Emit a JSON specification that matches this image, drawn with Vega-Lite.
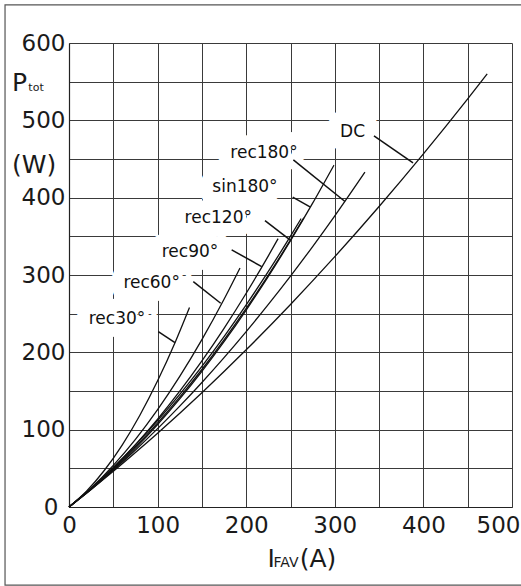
{
  "$schema": "https://vega.github.io/schema/vega-lite/v6.json",
  "width": 443,
  "height": 464,
  "autosize": {"type": "none"},
  "padding": {"left": 69, "top": 43, "right": 9, "bottom": 79},
  "background": "white",
  "config": {"view": {"stroke": null}, "font": "DejaVu Sans"},
  "datasets": {
    "curves": [
      {"curve": "rec30", "x": 0, "y": 0}, {"curve": "rec30", "x": 20, "y": 20.8}, {"curve": "rec30", "x": 40, "y": 47.5}, {"curve": "rec30", "x": 60, "y": 80.1}, {"curve": "rec30", "x": 80, "y": 118.7}, {"curve": "rec30", "x": 100, "y": 163.2}, {"curve": "rec30", "x": 120, "y": 213.5}, {"curve": "rec30", "x": 136, "y": 258},
      {"curve": "rec60", "x": 0, "y": 0}, {"curve": "rec60", "x": 25, "y": 24.6}, {"curve": "rec60", "x": 50, "y": 53.8}, {"curve": "rec60", "x": 75, "y": 87.5}, {"curve": "rec60", "x": 100, "y": 125.9}, {"curve": "rec60", "x": 125, "y": 168.9}, {"curve": "rec60", "x": 150, "y": 216.4}, {"curve": "rec60", "x": 175, "y": 268.6}, {"curve": "rec60", "x": 193, "y": 309},
      {"curve": "rec90", "x": 0, "y": 0}, {"curve": "rec90", "x": 25, "y": 23.8}, {"curve": "rec90", "x": 50, "y": 50.7}, {"curve": "rec90", "x": 75, "y": 80.7}, {"curve": "rec90", "x": 100, "y": 113.7}, {"curve": "rec90", "x": 125, "y": 149.8}, {"curve": "rec90", "x": 150, "y": 188.9}, {"curve": "rec90", "x": 175, "y": 231.1}, {"curve": "rec90", "x": 200, "y": 276.4}, {"curve": "rec90", "x": 225, "y": 324.8}, {"curve": "rec90", "x": 236, "y": 347},
      {"curve": "rec120", "x": 0, "y": 0}, {"curve": "rec120", "x": 25, "y": 23.5}, {"curve": "rec120", "x": 50, "y": 49.5}, {"curve": "rec120", "x": 75, "y": 77.9}, {"curve": "rec120", "x": 100, "y": 108.8}, {"curve": "rec120", "x": 125, "y": 142.1}, {"curve": "rec120", "x": 150, "y": 177.8}, {"curve": "rec120", "x": 175, "y": 216.0}, {"curve": "rec120", "x": 200, "y": 256.7}, {"curve": "rec120", "x": 225, "y": 299.8}, {"curve": "rec120", "x": 250, "y": 345.4}, {"curve": "rec120", "x": 265, "y": 374},
      {"curve": "rec120b", "x": 0, "y": 0}, {"curve": "rec120b", "x": 25, "y": 24.4}, {"curve": "rec120b", "x": 50, "y": 51.2}, {"curve": "rec120b", "x": 75, "y": 80.4}, {"curve": "rec120b", "x": 100, "y": 111.8}, {"curve": "rec120b", "x": 125, "y": 145.7}, {"curve": "rec120b", "x": 150, "y": 181.9}, {"curve": "rec120b", "x": 175, "y": 220.4}, {"curve": "rec120b", "x": 200, "y": 261.4}, {"curve": "rec120b", "x": 225, "y": 304.6}, {"curve": "rec120b", "x": 250, "y": 350.3}, {"curve": "rec120b", "x": 262, "y": 373},
      {"curve": "sin180", "x": 0, "y": 0}, {"curve": "sin180", "x": 25, "y": 22.8}, {"curve": "sin180", "x": 50, "y": 48.2}, {"curve": "sin180", "x": 75, "y": 76.1}, {"curve": "sin180", "x": 100, "y": 106.7}, {"curve": "sin180", "x": 125, "y": 139.8}, {"curve": "sin180", "x": 150, "y": 175.5}, {"curve": "sin180", "x": 175, "y": 213.8}, {"curve": "sin180", "x": 200, "y": 254.7}, {"curve": "sin180", "x": 225, "y": 298.2}, {"curve": "sin180", "x": 250, "y": 344.3}, {"curve": "sin180", "x": 275, "y": 392.9}, {"curve": "sin180", "x": 299, "y": 442},
      {"curve": "rec180", "x": 0, "y": 0}, {"curve": "rec180", "x": 25, "y": 23.0}, {"curve": "rec180", "x": 50, "y": 47.6}, {"curve": "rec180", "x": 75, "y": 73.7}, {"curve": "rec180", "x": 100, "y": 101.3}, {"curve": "rec180", "x": 125, "y": 130.4}, {"curve": "rec180", "x": 150, "y": 161.0}, {"curve": "rec180", "x": 175, "y": 193.1}, {"curve": "rec180", "x": 200, "y": 226.8}, {"curve": "rec180", "x": 225, "y": 262.0}, {"curve": "rec180", "x": 250, "y": 298.6}, {"curve": "rec180", "x": 275, "y": 336.8}, {"curve": "rec180", "x": 300, "y": 376.5}, {"curve": "rec180", "x": 334, "y": 433},
      {"curve": "DC", "x": 0, "y": 0}, {"curve": "DC", "x": 25, "y": 22.7}, {"curve": "DC", "x": 50, "y": 46.1}, {"curve": "DC", "x": 75, "y": 70.4}, {"curve": "DC", "x": 100, "y": 95.4}, {"curve": "DC", "x": 150, "y": 147.8}, {"curve": "DC", "x": 200, "y": 203.3}, {"curve": "DC", "x": 250, "y": 261.9}, {"curve": "DC", "x": 300, "y": 323.7}, {"curve": "DC", "x": 350, "y": 388.6}, {"curve": "DC", "x": 400, "y": 456.6}, {"curve": "DC", "x": 450, "y": 527.7}, {"curve": "DC", "x": 472, "y": 560}
    ],
    "labels": [
      {"text": "rec30°", "x": 54.2, "y": 242.8},
      {"text": "rec60°", "x": 93.3, "y": 289.4},
      {"text": "rec90°", "x": 136.6, "y": 330.3},
      {"text": "rec120°", "x": 168.5, "y": 373.5},
      {"text": "sin180°", "x": 198.6, "y": 414.4},
      {"text": "rec180°", "x": 220.1, "y": 457.6},
      {"text": "DC", "x": 320, "y": 484.7}
    ],
    "pointers": [
      {"x": 100.8, "y": 226.8, "x2": 119.6, "y2": 212.5},
      {"x": 140.3, "y": 291.5, "x2": 171.2, "y2": 263.5},
      {"x": 183.6, "y": 332.5, "x2": 217.5, "y2": 310.9},
      {"x": 221.2, "y": 370.4, "x2": 249.4, "y2": 345.4},
      {"x": 252.5, "y": 400.6, "x2": 272, "y2": 388},
      {"x": 253.2, "y": 448.9, "x2": 311.5, "y2": 395},
      {"x": 344.2, "y": 480, "x2": 388.3, "y2": 445}
    ],
    "titles": [
      {"text": "P", "x": -64.3, "y": 537.3},
      {"text": "(W)", "x": -64.3, "y": 431.4},
      {"text": "I", "x": 224, "y": -77.6},
      {"text": "(A)", "x": 260.4, "y": -77.2}
    ],
    "subY": [
      {"text": "tot", "x": -45.9, "y": 537.3}
    ],
    "subX": [
      {"text": "FAV", "x": 230.9, "y": -77.6}
    ],
    "frame": [
      {"x": -72.2, "x2": 511.3, "y": -100.9, "y2": 649.4}
    ]
  },
  "encoding": {
    "x": {
      "field": "x",
      "type": "quantitative",
      "scale": {"domain": [0, 500], "nice": false},
      "axis": {
        "title": null,
        "values": [0, 50, 100, 150, 200, 250, 300, 350, 400, 450, 500],
        "labelExpr": "datum.value % 100 == 0 ? datum.label : ''",
        "ticks": false,
        "grid": true,
        "gridColor": "#3a3a3a",
        "gridWidth": 1,
        "gridOpacity": 1,
        "domainColor": "#222",
        "domainWidth": 1.2,
        "labelFont": "DejaVu Sans",
        "labelFontSize": 23,
        "labelColor": "#1a1a1a",
        "labelPadding": 7,
        "labelFlush": false,
        "labelOverlap": false,
        "labelBound": false,
        "labelOffset": {"condition": {"test": "datum.value == 500", "value": -14}, "value": 0}
      }
    },
    "y": {
      "field": "y",
      "type": "quantitative",
      "scale": {"domain": [0, 600], "nice": false},
      "axis": {
        "title": null,
        "values": [0, 50, 100, 150, 200, 250, 300, 350, 400, 450, 500, 550, 600],
        "labelExpr": "datum.value % 100 == 0 ? datum.label : ''",
        "ticks": false,
        "grid": true,
        "gridColor": "#3a3a3a",
        "gridWidth": 1,
        "gridOpacity": 1,
        "domainColor": "#222",
        "domainWidth": 1.2,
        "labelFont": "DejaVu Sans",
        "labelFontSize": 23,
        "labelColor": "#1a1a1a",
        "labelFlush": false,
        "labelOverlap": false,
        "labelBound": false,
        "labelPadding": {"condition": {"test": "datum.value == 0", "value": 11}, "value": 4}
      }
    }
  },
  "layer": [
    {
      "data": {"name": "frame"},
      "mark": {"type": "rect", "fill": null, "stroke": "#555", "strokeWidth": 1.2, "clip": false},
      "encoding": {"x2": {"field": "x2"}, "y2": {"field": "y2"}}
    },
    {
      "data": {"name": "labels"},
      "mark": {"type": "text", "font": "DejaVu Sans", "fontSize": 17, "align": "center", "baseline": "middle", "fill": "white", "stroke": "white", "strokeWidth": 26, "strokeJoin": "round"},
      "encoding": {"text": {"field": "text"}}
    },
    {
      "data": {"name": "curves"},
      "mark": {"type": "line", "color": "#111", "strokeWidth": 1.3, "interpolate": "monotone"},
      "encoding": {"detail": {"field": "curve"}}
    },
    {
      "data": {"name": "pointers"},
      "mark": {"type": "rule", "color": "#111", "strokeWidth": 1.5},
      "encoding": {"x2": {"field": "x2"}, "y2": {"field": "y2"}}
    },
    {
      "data": {"name": "labels"},
      "mark": {"type": "text", "font": "DejaVu Sans", "fontSize": 17, "align": "center", "baseline": "middle", "color": "#111"},
      "encoding": {"text": {"field": "text"}}
    },
    {
      "data": {"name": "titles"},
      "mark": {"type": "text", "font": "DejaVu Sans", "fontSize": 25, "align": "left", "baseline": "alphabetic", "color": "#1a1a1a", "clip": false},
      "encoding": {"text": {"field": "text"}}
    },
    {
      "data": {"name": "subY"},
      "mark": {"type": "text", "font": "DejaVu Sans", "fontSize": 11, "align": "left", "baseline": "alphabetic", "color": "#1a1a1a", "clip": false},
      "encoding": {"text": {"field": "text"}}
    },
    {
      "data": {"name": "subX"},
      "mark": {"type": "text", "font": "DejaVu Sans", "fontSize": 14, "align": "left", "baseline": "alphabetic", "color": "#1a1a1a", "clip": false},
      "encoding": {"text": {"field": "text"}}
    }
  ]
}
